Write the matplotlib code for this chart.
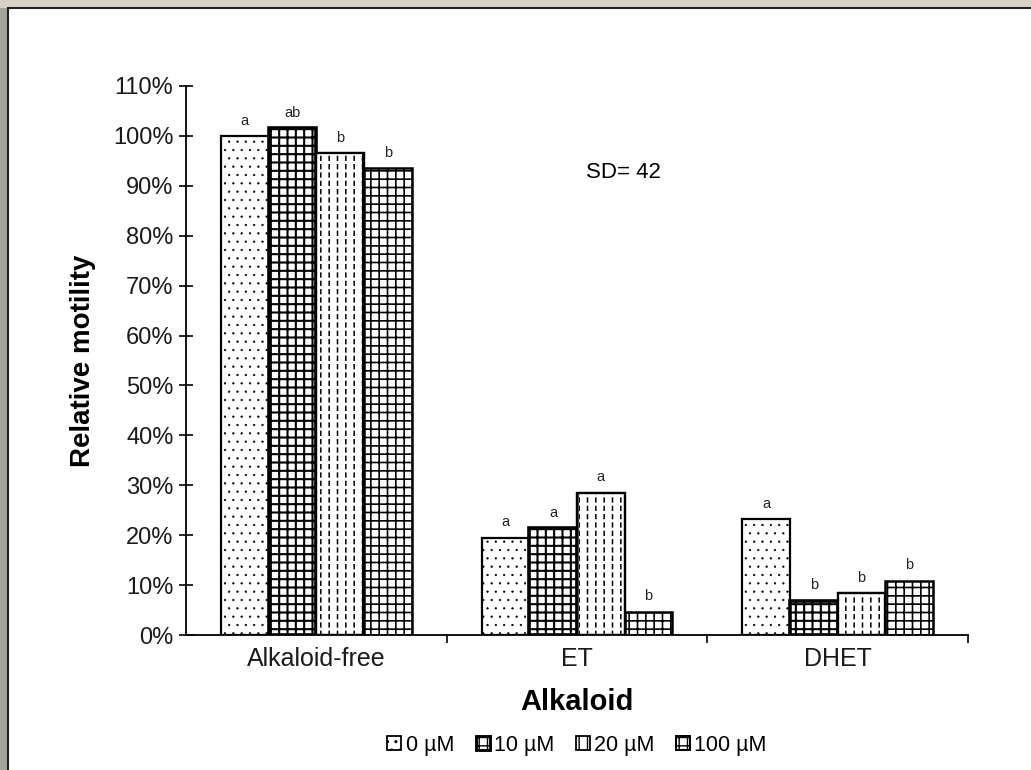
import matplotlib
matplotlib.use("Agg")
import matplotlib.pyplot as plt
from matplotlib.patches import Rectangle, Patch
import numpy as np

plt.rcParams['font.family'] = ['Liberation Sans', 'DejaVu Sans']

# Data
categories = ["Alkaloid-free", "ET", "DHET"]
doses = ["0 \u00b5M", "10 \u00b5M", "20 \u00b5M", "100 \u00b5M"]
motility = {
    "0 \u00b5M":   [1.000, 0.195, 0.232],
    "10 \u00b5M":  [1.015, 0.214, 0.069],
    "20 \u00b5M":  [0.965, 0.285, 0.084],
    "100 \u00b5M": [0.935, 0.047, 0.109],
}
letters = {
    "0 \u00b5M":   ["a", "a", "a"],
    "10 \u00b5M":  ["ab", "a", "b"],
    "20 \u00b5M":  ["b", "a", "b"],
    "100 \u00b5M": ["b", "b", "b"],
}
yticks = [0.0, 0.1, 0.2, 0.3, 0.4, 0.5, 0.6, 0.7, 0.8, 0.9, 1.0, 1.1]
ytick_labels = ["0%", "10%", "20%", "30%", "40%", "50%", "60%",
                "70%", "80%", "90%", "100%", "110%"]

# Bar styling per dose
hatches = {"0 \u00b5M": "..", "10 \u00b5M": "++", "20 \u00b5M": "||", "100 \u00b5M": "++"}
hatch_lw = {"0 \u00b5M": 0.4, "10 \u00b5M": 1.5, "20 \u00b5M": 1.1, "100 \u00b5M": 1.2}
edge_lw = {"0 \u00b5M": 1.6, "10 \u00b5M": 2.6, "20 \u00b5M": 1.6, "100 \u00b5M": 1.8}

W, H = 1031, 770
fig = plt.figure(figsize=(W / 100, H / 100), dpi=100, facecolor="#d8d2c6")

# Page frame: beige top band, grey left band, white sheet with dark edge
fig.patches.append(Rectangle((0, 0), 8 / W, 1 - 8 / H, transform=fig.transFigure,
                             facecolor="#a6a399", edgecolor="none", zorder=-2))
fig.patches.append(Rectangle((8 / W, -0.01), 1, 1 - 8 / H + 0.01, transform=fig.transFigure,
                             facecolor="white", edgecolor="#222222", linewidth=1.5, zorder=-1))

ax = fig.add_axes([186 / W, (H - 635) / H, (968 - 186) / W, (635 - 86) / H])
ax.set_facecolor("none")

x = np.arange(len(categories))
bw = 0.183
offsets = (np.arange(len(doses)) - 1.5) * bw

for i, d in enumerate(doses):
    vals = motility[d]
    with plt.rc_context({"hatch.linewidth": hatch_lw[d]}):
        ax.bar(x + offsets[i], vals, width=bw, facecolor="white",
               edgecolor="black", linewidth=edge_lw[d], hatch=hatches[d], zorder=2)
    if d == "20 \u00b5M":
        # white horizontal breaks turn the vertical lines into dashes
        with plt.rc_context({"hatch.linewidth": 2.2}):
            ax.bar(x + offsets[i], vals, width=bw * 0.93, facecolor="none",
                   edgecolor="white", linewidth=0, hatch="--", zorder=3)
        ax.bar(x + offsets[i], vals, width=bw, facecolor="none",
               edgecolor="black", linewidth=edge_lw[d], zorder=4)
    for xi, v, lab in zip(x + offsets[i], vals, letters[d]):
        ax.annotate(lab, (xi, v), xytext=(0, 6), textcoords="offset points",
                    ha="center", va="bottom", fontsize=10.5, color="#222222")

ax.set_xlim(-0.5, 2.5)
ax.set_ylim(0, 1.1)
ax.set_yticks(yticks)
ax.set_yticklabels(ytick_labels, fontsize=17, color="#1a1a1a")
ax.set_xticks(x)
ax.set_xticklabels(categories, fontsize=18, color="#1a1a1a")
ax.set_xticks([0.5, 1.5, 2.5], minor=True)
ax.tick_params(axis="x", which="major", length=0, pad=9)
ax.tick_params(axis="x", which="minor", length=6, width=1.2, direction="out")
ax.tick_params(axis="y", which="major", length=10, width=1.2, direction="inout", pad=4)

for s in ("top", "right"):
    ax.spines[s].set_visible(False)
for s in ("left", "bottom"):
    ax.spines[s].set_linewidth(1.3)

ax.set_ylabel("Relative motility", fontsize=20, fontweight="bold", labelpad=12)
ax.set_xlabel("Alkaloid", fontsize=21, fontweight="bold", labelpad=12)

ax.text(0.56, 0.843, "SD= 42", transform=ax.transAxes, ha="center", va="center",
        fontsize=16)

handles = []
for d in doses:
    with plt.rc_context({"hatch.linewidth": hatch_lw[d]}):
        handles.append(Patch(facecolor="white", edgecolor="black", hatch=hatches[d],
                             linewidth=edge_lw[d] * 0.8))
fig.legend(handles, doses, loc="center", bbox_to_anchor=(577 / W, (H - 745) / H),
           ncol=4, frameon=False, fontsize=15.5, handlelength=0.65, handleheight=0.65,
           handletextpad=0.2, columnspacing=1.0)

fig.savefig("out.png", dpi=100, facecolor=fig.get_facecolor())
